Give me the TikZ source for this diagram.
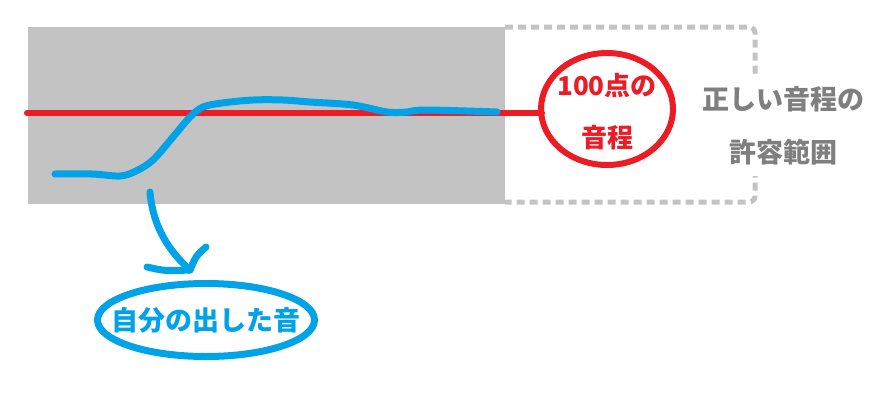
\documentclass[tikz,border=0pt]{standalone}
\usepackage{fontspec}
\setmainfont{Noto Sans CJK JP}
\definecolor{bandgray}{HTML}{C3C3C3}
\definecolor{pitchred}{HTML}{ED1C24}
\definecolor{voiceblue}{HTML}{00A2E8}
\definecolor{textgray}{HTML}{7F7F7F}
\tikzset{
  stroke/.style={line width=#1,line cap=round,line join=round}
}
\begin{document}
\begin{tikzpicture}[x=1pt,y=-1pt]
\useasboundingbox (0,0) rectangle (879,405);
% allowed band and its continuation
\fill[bandgray] (28,27) rectangle (505,204);
\draw[bandgray,line width=5,dash pattern=on 8 off 5,rounded corners=6]
  (505,27) -- (755,27) -- (755,202) -- (505,202);
\node(range) at (783,126)[fill=white,minimum height=100,inner sep=2,
  align=center,text=textgray,font=\bfseries\fontsize{27}{53}\selectfont]
  {正しい音程の\\許容範囲};
% target pitch
\node(pitch) at (607,109)[inner sep=0,text=pitchred,align=center,
  font=\bfseries\fontsize{26}{52}\selectfont,yshift=-3]{100点の\\音程};
\draw[pitchred,line width=6] (607,109) ellipse [x radius=66,y radius=56];
\coordinate(redL) at (27,113);
\coordinate(redR) at (542,113);
\draw[pitchred,stroke=6] (redL) -- (redR);
% sung pitch
\draw[voiceblue,stroke=7] plot[smooth,tension=0.55] coordinates {
  (55,174) (92,174) (120,176) (136,171) (153,160) (173,137) (190,117)
  (203,107) (222,103) (253,100) (283,100) (310,102) (353,105) (387,112)
  (407,112) (425,110) (497,112)};
\coordinate(tail) at (150,192);
\coordinate(tip) at (190,270);
\coordinate(barbR) at (206,247);
\coordinate(barbL) at (147,267);
\draw[voiceblue,stroke=7] (tail) .. controls (153,228) and (170,252) .. (tip);
\draw[voiceblue,stroke=7] (barbR) .. controls (196,256) .. (tip);
\draw[voiceblue,stroke=7] (barbL) .. controls (165,271) .. (tip);
\node(voice) at (206,320)[inner sep=0,text=voiceblue,
  font=\bfseries\fontsize{27}{30}\selectfont]{自分の出した音};
\draw[voiceblue,line width=7] (voice.center) ellipse [x radius=108.5,y radius=36.5];
\end{tikzpicture}
\end{document}
